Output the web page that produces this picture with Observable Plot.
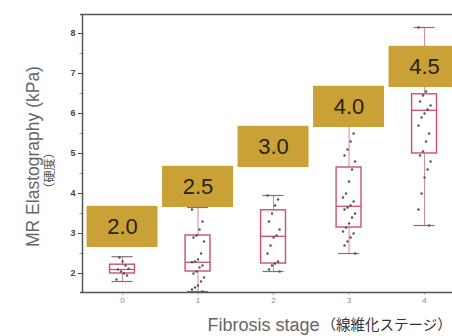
<!DOCTYPE html>
<html>
<head>
<meta charset="utf-8">
<script src="https://cdn.jsdelivr.net/npm/d3@7"></script>
<script src="https://cdn.jsdelivr.net/npm/@observablehq/plot@0.6"></script>
<style>
  html, body { margin: 0; padding: 0; background: #fff; }
  [aria-label^="y-axis"] text { font-weight: bold; fill: #444; font-size: 9px; }
  [aria-label^="x-axis"] text { fill: #888; font-size: 8px; }
  [aria-label^="x-axis"] line, [aria-label^="x-axis"] path { stroke: #bbb; }
</style>
</head>
<body>
<div id="chart"></div>
<script>
// ---- data ----
const stages = [0, 1, 2, 3, 4];
const stiffnessLabels = ["2.0", "2.5", "3.0", "4.0", "4.5"];
const lowWhisker  = [1.80, 1.55, 2.05, 2.50, 3.20];
const q1          = [2.00, 2.05, 2.25, 3.15, 5.00];
const median      = [2.10, 2.28, 2.93, 3.68, 6.08];
const q3          = [2.22, 2.95, 3.58, 4.65, 6.48];
const highWhisker = [2.42, 3.65, 3.95, 5.75, 8.15];

const points0 = [1.85, 1.95, 2.0, 2.05, 2.1, 2.12, 2.2, 2.3, 2.4];
const points1 = [3.6, 3.3, 3.1, 2.95, 2.9, 2.8, 2.5, 2.35, 2.3, 2.28, 2.2, 2.15, 2.05, 2.0, 1.9, 1.8, 1.7, 1.65, 1.6, 1.55];
const points2 = [3.95, 3.85, 3.7, 3.5, 3.3, 3.1, 2.95, 2.9, 2.7, 2.5, 2.3, 2.25, 2.2, 2.1, 2.05];
const points3 = [5.7, 5.5, 5.3, 5.1, 4.95, 4.8, 4.6, 4.3, 4.0, 3.9, 3.8, 3.7, 3.65, 3.6, 3.5, 3.4, 3.25, 3.15, 3.05, 3.0, 2.9, 2.8, 2.7, 2.5];
const points4 = [8.15, 6.7, 6.55, 6.45, 6.3, 6.2, 6.1, 6.0, 5.9, 5.7, 5.5, 5.3, 5.05, 4.95, 4.8, 4.6, 4.4, 4.0, 3.6, 3.2];

const yTicks = [2, 3, 4, 5, 6, 7, 8];
const yMinorTicks = [2.5, 3.5, 4.5, 5.5, 6.5, 7.5];
const xTicks = [0, 1, 2, 3, 4];

// ---- tables built from the arrays ----
const boxes = stages.map((s, i) => ({
  stage: s, lo: lowWhisker[i], q1: q1[i], med: median[i], q3: q3[i], hi: highWhisker[i], label: stiffnessLabels[i]
}));
const pointSets = [points0, points1, points2, points3, points4];
const dots = pointSets.flatMap((arr, s) => arr.map((v, i) => ({ stage: s, value: v, k: i })));

// ---- layout ----
const W = 452, H = 336;
const mL = 82, mT = 14, mB = 44, mR = 0;
const X_DOMAIN = [-0.53, 4.37];
const Y_DOMAIN = [1.525, 8.475];
const pxPerX = (W - mL - mR) / (X_DOMAIN[1] - X_DOMAIN[0]);
const pxPerY = (H - mT - mB) / (Y_DOMAIN[1] - Y_DOMAIN[0]);
const px2x = p => X_DOMAIN[0] + (p - mL) / pxPerX;
const px2y = p => Y_DOMAIN[1] - (p - mT) / pxPerY;
const BW = 0.165, CAP = 0.14;
const jitter = k => (((k * 7) % 9) - 4) / 4 * 0.08;

const gold = "#c9a137";
const boxColor = "#c9506f";
const whiskerColor = "#d9889c";
const capColor = "#8d6b77";
const axisColor = "#555";

const chart = Plot.plot({
  width: W, height: H,
  marginLeft: mL, marginTop: mT, marginBottom: mB, marginRight: mR,
  style: { fontFamily: "Liberation Sans, Arial, sans-serif", fontSize: "9px", color: "#444", background: "#fff" },
  x: { type: "linear", domain: X_DOMAIN, ticks: xTicks, tickSize: 3, tickPadding: 2, label: null, line: false, tickFormat: d => String(d) },
  y: { domain: Y_DOMAIN, ticks: yTicks, tickSize: 4, tickPadding: 3, label: null, line: false, tickFormat: d => String(d) },
  marks: [
    // minor ticks on y
    Plot.ruleY(yMinorTicks, { y: d => d, x1: X_DOMAIN[0] - 2.5 / pxPerX, x2: X_DOMAIN[0], stroke: "#777", strokeWidth: 0.8 }),
    // whiskers
    Plot.ruleX(boxes, { x: "stage", y1: "lo", y2: "q1", stroke: whiskerColor, strokeWidth: 1 }),
    Plot.ruleX(boxes, { x: "stage", y1: "q3", y2: "hi", stroke: whiskerColor, strokeWidth: 1 }),
    // caps
    Plot.ruleY(boxes, { y: "lo", x1: d => d.stage - CAP, x2: d => d.stage + CAP, stroke: capColor, strokeWidth: 1.2 }),
    Plot.ruleY(boxes, { y: "hi", x1: d => d.stage - CAP, x2: d => d.stage + CAP, stroke: capColor, strokeWidth: 1.2 }),
    // boxes
    Plot.rect(boxes, { x1: d => d.stage - BW, x2: d => d.stage + BW, y1: "q1", y2: "q3", fill: "none", stroke: boxColor, strokeWidth: 1.4 }),
    Plot.ruleY(boxes, { y: "med", x1: d => d.stage - BW, x2: d => d.stage + BW, stroke: boxColor, strokeWidth: 1.3 }),
    // points
    Plot.dot(dots, { x: d => d.stage + jitter(d.k), y: "value", r: 1.2, fill: "#555", stroke: "none" }),
    // gold annotation boxes
    Plot.rect(boxes, {
      x1: d => Math.max(d.stage - 0.47, X_DOMAIN[0]),
      x2: d => Math.min(d.stage + 0.47, X_DOMAIN[1]),
      y1: d => d.stage + 2.65, y2: d => d.stage + 3.68,
      fill: gold
    }),
    Plot.text(boxes, {
      x: "stage", y: d => d.stage + 3.165, text: "label",
      fill: "#2a220c", fontSize: 22, fontFamily: "Liberation Sans, Arial, sans-serif"
    }),
    // frame lines: left, top, bottom
    Plot.ruleX([X_DOMAIN[0]], { stroke: axisColor, strokeWidth: 1.5, y1: Y_DOMAIN[0], y2: Y_DOMAIN[1] }),
    Plot.ruleY([Y_DOMAIN[0], Y_DOMAIN[1]], { stroke: axisColor, strokeWidth: 1.5, x1: X_DOMAIN[0] - 2 / pxPerX, x2: X_DOMAIN[1] }),
    // axis titles
    Plot.text(["MR Elastography (kPa)"], {
      x: px2x(33), y: px2y(156), textAnchor: "middle", lineAnchor: "middle", rotate: -90, text: d => d,
      fontSize: 17.5, fill: "#666", fontFamily: "Liberation Sans, Arial, sans-serif"
    }),
    Plot.text(["（硬度）"], {
      x: px2x(50), y: px2y(170), textAnchor: "middle", lineAnchor: "middle", rotate: -90, text: d => d,
      fontSize: 12, fill: "#555", fontFamily: "Noto Sans CJK JP"
    }),
    Plot.text(["Fibrosis stage"], {
      x: px2x(207), y: px2y(325), textAnchor: "start", lineAnchor: "middle", text: d => d,
      fontSize: 18, fill: "#666", fontFamily: "Liberation Sans, Arial, sans-serif"
    }),
    Plot.text(["（線維化ステージ）"], {
      x: px2x(321), y: px2y(325), textAnchor: "start", lineAnchor: "middle", text: d => d,
      fontSize: 14.5, fill: "#333", fontFamily: "Noto Sans CJK JP"
    })
  ]
});
document.getElementById("chart").appendChild(chart);
</script>
</body>
</html>
